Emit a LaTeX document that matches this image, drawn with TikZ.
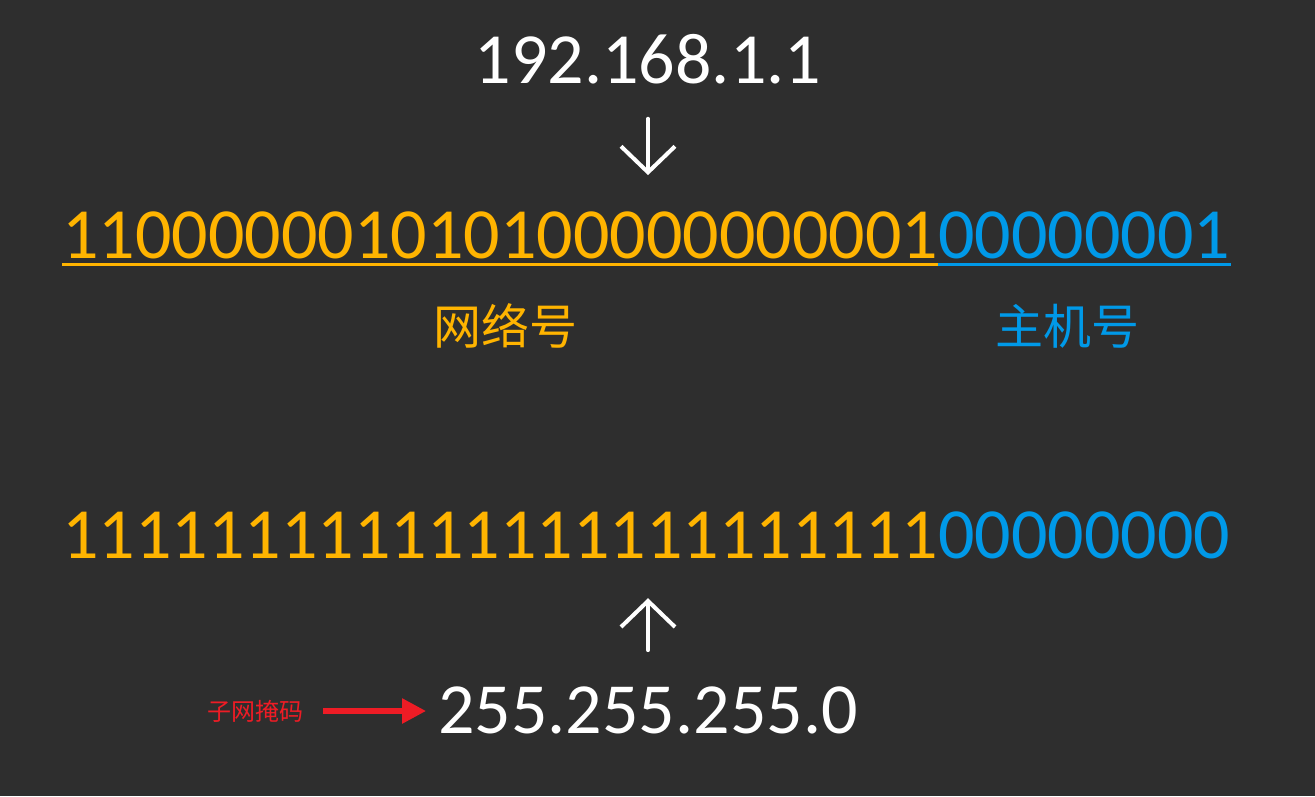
\documentclass[tikz,border=0pt]{standalone}
\usepackage{fontspec}
\setmainfont{Carlito}
\newfontfamily\cjk{Noto Sans CJK SC}
\usetikzlibrary{arrows.meta}
\definecolor{board}{HTML}{2E2E2E}
\definecolor{netcol}{HTML}{FFB400}
\definecolor{hostcol}{HTML}{0099E8}
\definecolor{maskred}{HTML}{EE1C25}

\begin{document}
\begin{tikzpicture}[x=1pt, y=-1pt,
    digits/.style={inner sep=0pt, font=\fontsize{72}{72}\selectfont},
    cnword/.style={inner sep=0pt, font=\cjk\fontsize{48}{48}\selectfont},
    barb/.style={white, line width=4pt, line cap=round, -{Straight Barb[length=26pt, width=54pt]}},
    redarrow/.style={maskred, line width=5.5pt, -{Triangle[length=24pt, width=24pt]}}]
    \fill[board] (0,0) rectangle (1315,796);
    \node[digits, white, anchor=base] (ip) at (648,83) {192.168.1.1};
    \node[digits, netcol, anchor=base west] (net) at (62,258) {110000001010100000000001};
    \node[digits, hostcol, anchor=base west] (host) at (net.base east) {00000001};
    \draw[netcol, line width=3pt] ([yshift=-6pt]net.base west) -- ([yshift=-6pt]net.base east);
    \draw[hostcol, line width=3pt] ([yshift=-6pt]host.base west) -- ([yshift=-6pt]host.base east);
    \draw[barb, shorten <=35pt, shorten >=36pt] (ip.south) -- (ip.south |- net.north);
    \node[cnword, text=netcol] (netname) at (505,326) {网络号};
    \node[cnword, text=hostcol] (hostname) at (1067,326) {主机号};
    \node[digits, netcol, anchor=base west] (ones) at (62,558) {111111111111111111111111};
    \node[digits, hostcol, anchor=base west] (zeros) at (ones.base east) {00000000};
    \node[digits, white, anchor=base] (mask) at (648,733) {255.255.255.0};
    \draw[barb, shorten <=36pt, shorten >=40pt] (mask.north) -- (mask.north |- ones.south);
    \node[inner sep=0pt, font=\cjk\fontsize{24}{24}\selectfont, text=maskred] (maskname) at (255,711) {子网掩码};
    \draw[redarrow, shorten <=20pt, shorten >=12pt] (maskname.east) -- (maskname.east -| mask.west);
\end{tikzpicture}
\end{document}
